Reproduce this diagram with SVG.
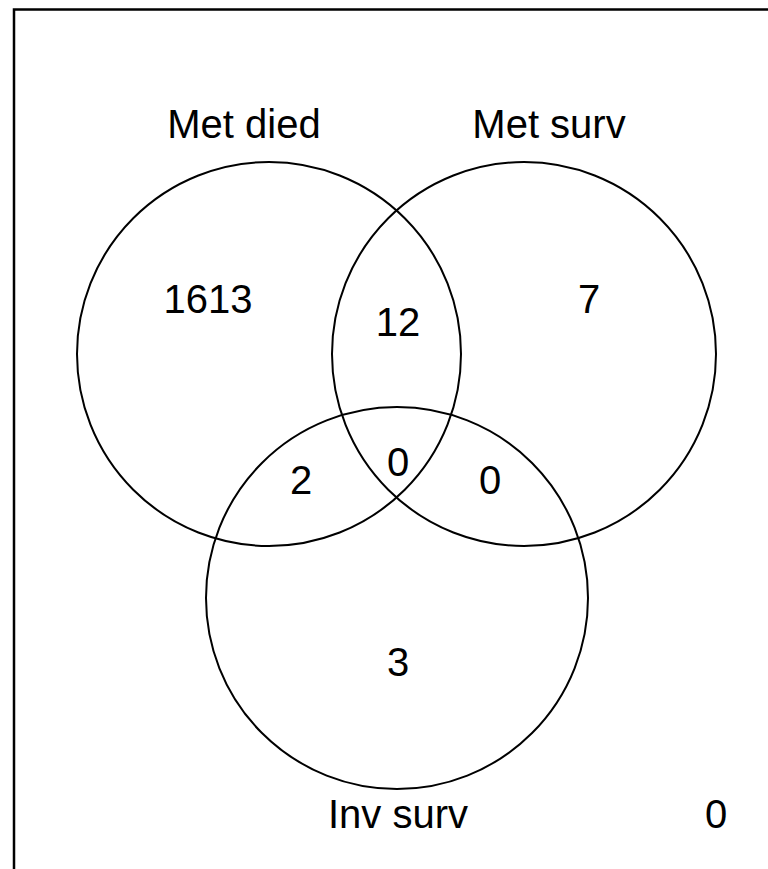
<svg xmlns="http://www.w3.org/2000/svg" width="768" height="869" viewBox="0 0 768 869">
<style>
.c{fill:none;stroke:#000;stroke-width:2}
.t{font-family:"Liberation Sans",Arial,sans-serif;font-size:40px;fill:#000;text-anchor:middle}
</style>
<rect width="768" height="869" fill="#fff"/>
<path d="M14 870 V9.5 H769" fill="none" stroke="#000" stroke-width="2.5"/>
<g id="set-met-died">
<circle class="c" cx="269" cy="354" r="192"/>
<text class="t" x="244" y="138">Met died</text>
</g>
<g id="set-met-surv">
<circle class="c" cx="524" cy="354" r="192"/>
<text class="t" x="549" y="138">Met surv</text>
</g>
<g id="set-inv-surv">
<circle class="c" cx="397" cy="598" r="191"/>
<text class="t" x="398" y="828">Inv surv</text>
</g>
<g id="counts">
<text class="t" x="208" y="313">1613</text>
<text class="t" x="398" y="336">12</text>
<text class="t" x="589" y="313">7</text>
<text class="t" x="398" y="476">0</text>
<text class="t" x="301" y="494">2</text>
<text class="t" x="490" y="494">0</text>
<text class="t" x="398" y="676">3</text>
<text class="t" x="716" y="828">0</text>
</g>
</svg>
